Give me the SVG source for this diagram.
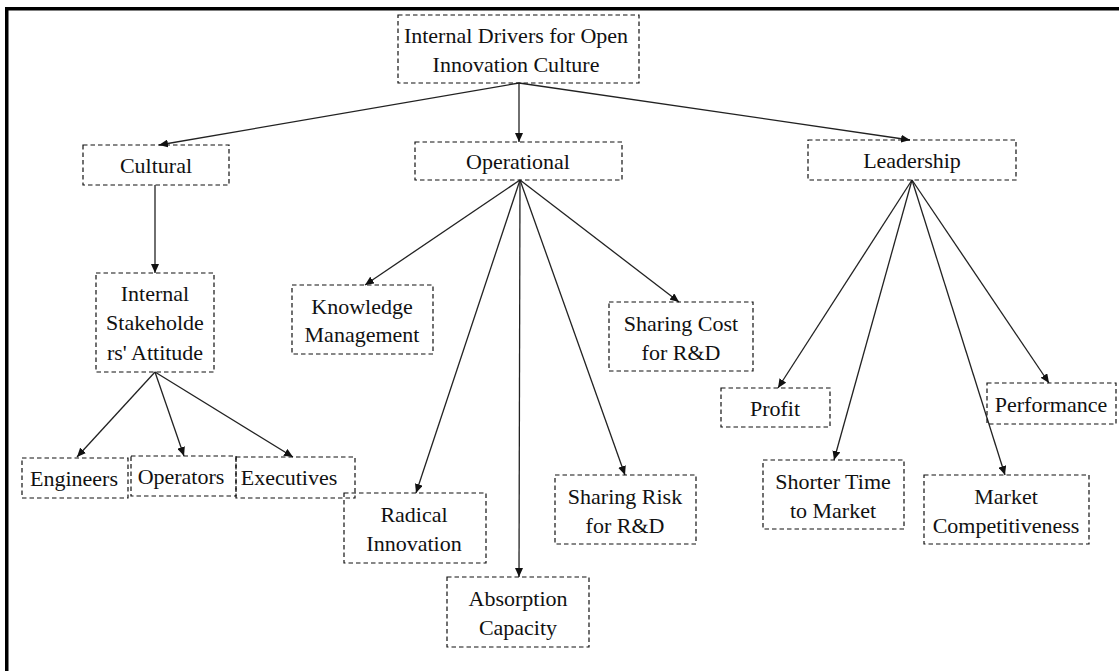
<svg xmlns="http://www.w3.org/2000/svg" width="1119" height="671" viewBox="0 0 1119 671">
  <defs>
    <style>
      .box { fill: none; stroke: #111; stroke-width: 1.2; stroke-dasharray: 4.5 3; }
      .lbl { font-family: "Liberation Serif", "Times New Roman", serif; font-size: 22px; fill: #111; text-anchor: middle; }
      .edge { stroke: #222; stroke-width: 1.3; fill: none; marker-end: url(#arrow); }
      .frame { fill: #000; }
    </style>
    <marker id="arrow" markerUnits="userSpaceOnUse" markerWidth="10" markerHeight="8" refX="9" refY="4" orient="auto">
      <path d="M0,0 L9,4 L0,8 z" fill="#111"/>
    </marker>
  </defs>

  <rect width="1119" height="671" fill="#fff"/>

  <!-- page frame: heavy rule along the top and left -->
  <rect class="frame" x="5" y="7" width="1114" height="3.5"/>
  <rect class="frame" x="5" y="7" width="3.5" height="664"/>

  <!-- connectors -->
  <g id="connectors">
    <line class="edge" x1="519" y1="83" x2="159" y2="145"/>
    <line class="edge" x1="519" y1="83" x2="519" y2="142"/>
    <line class="edge" x1="519" y1="83" x2="910" y2="140"/>

    <line class="edge" x1="155" y1="185" x2="155" y2="273"/>
    <line class="edge" x1="155" y1="372" x2="77" y2="457"/>
    <line class="edge" x1="155" y1="372" x2="184" y2="456"/>
    <line class="edge" x1="155" y1="372" x2="293" y2="457"/>

    <line class="edge" x1="520" y1="180" x2="365" y2="285"/>
    <line class="edge" x1="520" y1="180" x2="416" y2="493"/>
    <line class="edge" x1="520" y1="180" x2="519" y2="577"/>
    <line class="edge" x1="520" y1="180" x2="625" y2="475"/>
    <line class="edge" x1="520" y1="180" x2="679" y2="302"/>

    <line class="edge" x1="912" y1="180" x2="778" y2="388"/>
    <line class="edge" x1="912" y1="180" x2="834" y2="460"/>
    <line class="edge" x1="912" y1="180" x2="1005" y2="475"/>
    <line class="edge" x1="912" y1="180" x2="1049" y2="383"/>
  </g>

  <!-- root -->
  <g id="root">
    <rect class="box" x="398" y="15" width="241" height="68"/>
    <text class="lbl" x="516" y="43">Internal Drivers for Open</text>
    <text class="lbl" x="516" y="72">Innovation Culture</text>
  </g>

  <!-- first level -->
  <g id="cultural">
    <rect class="box" x="83" y="145" width="146" height="40"/>
    <text class="lbl" x="156" y="173">Cultural</text>
  </g>
  <g id="operational">
    <rect class="box" x="415" y="142" width="207" height="38"/>
    <text class="lbl" x="518" y="169">Operational</text>
  </g>
  <g id="leadership">
    <rect class="box" x="808" y="140" width="208" height="40"/>
    <text class="lbl" x="912" y="168">Leadership</text>
  </g>

  <!-- cultural branch -->
  <g id="stakeholders">
    <rect class="box" x="96" y="273" width="118" height="99"/>
    <text class="lbl" x="155" y="301">Internal</text>
    <text class="lbl" x="155" y="330">Stakeholde</text>
    <text class="lbl" x="155" y="360">rs' Attitude</text>
  </g>
  <g id="engineers">
    <rect class="box" x="22" y="458" width="106" height="40"/>
    <text class="lbl" x="74" y="486">Engineers</text>
  </g>
  <g id="operators">
    <rect class="box" x="131" y="456" width="105" height="40"/>
    <text class="lbl" x="181" y="484">Operators</text>
  </g>
  <g id="executives">
    <rect class="box" x="236" y="457" width="119" height="41"/>
    <text class="lbl" x="289" y="485">Executives</text>
  </g>

  <!-- operational branch -->
  <g id="knowledge">
    <rect class="box" x="292" y="285" width="141" height="69"/>
    <text class="lbl" x="362" y="314">Knowledge</text>
    <text class="lbl" x="362" y="342">Management</text>
  </g>
  <g id="radical">
    <rect class="box" x="344" y="493" width="142" height="70"/>
    <text class="lbl" x="414" y="522">Radical</text>
    <text class="lbl" x="414" y="551">Innovation</text>
  </g>
  <g id="absorption">
    <rect class="box" x="447" y="577" width="142" height="70"/>
    <text class="lbl" x="518" y="606">Absorption</text>
    <text class="lbl" x="518" y="635">Capacity</text>
  </g>
  <g id="risk">
    <rect class="box" x="555" y="475" width="141" height="69"/>
    <text class="lbl" x="625" y="504">Sharing Risk</text>
    <text class="lbl" x="625" y="533">for R&amp;D</text>
  </g>
  <g id="cost">
    <rect class="box" x="609" y="302" width="144" height="69"/>
    <text class="lbl" x="681" y="331">Sharing Cost</text>
    <text class="lbl" x="681" y="360">for R&amp;D</text>
  </g>

  <!-- leadership branch -->
  <g id="profit">
    <rect class="box" x="721" y="388" width="109" height="39"/>
    <text class="lbl" x="775" y="416">Profit</text>
  </g>
  <g id="time-to-market">
    <rect class="box" x="763" y="460" width="141" height="69"/>
    <text class="lbl" x="833" y="489">Shorter Time</text>
    <text class="lbl" x="833" y="518">to Market</text>
  </g>
  <g id="competitiveness">
    <rect class="box" x="924" y="475" width="165" height="69"/>
    <text class="lbl" x="1006" y="504">Market</text>
    <text class="lbl" x="1006" y="533">Competitiveness</text>
  </g>
  <g id="performance">
    <rect class="box" x="987" y="383" width="129" height="41"/>
    <text class="lbl" x="1051" y="412">Performance</text>
  </g>
</svg>
